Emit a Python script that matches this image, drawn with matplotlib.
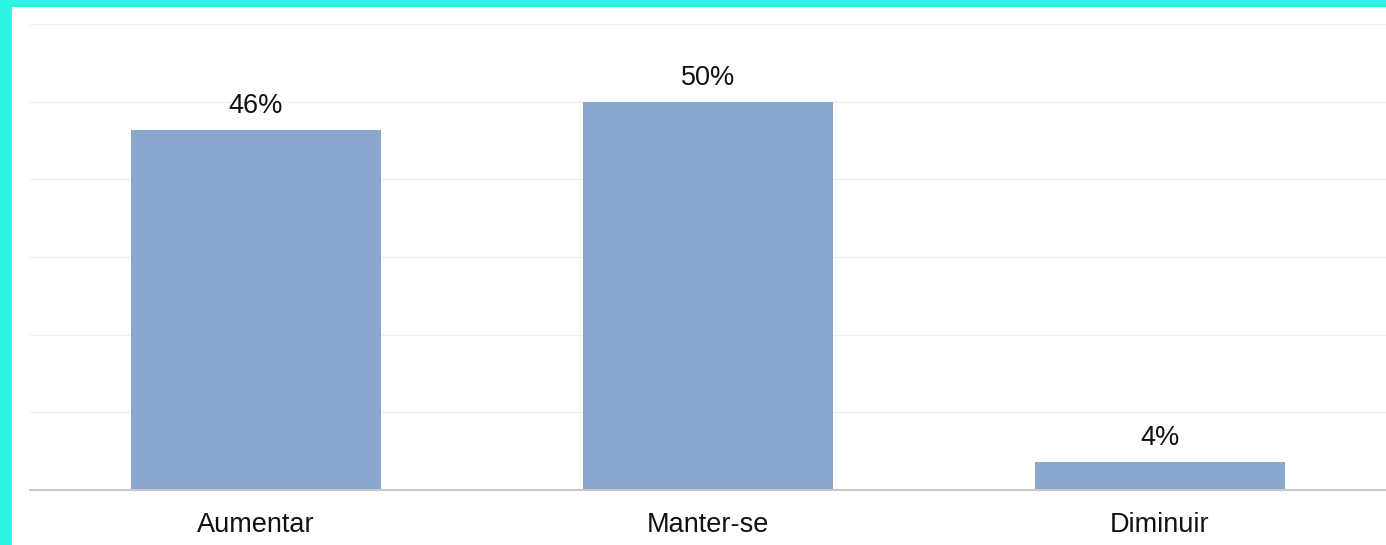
import matplotlib
matplotlib.use("Agg")
from matplotlib import pyplot as plt
from matplotlib.patches import Rectangle

categories = ["Aumentar", "Manter-se", "Diminuir"]
values = [46.4, 50.0, 3.6]
labels = ["46%", "50%", "4%"]


def main():
    plt.rcParams["font.family"] = ["Liberation Sans", "DejaVu Sans"]
    fig = plt.figure(figsize=(13.86, 5.45), dpi=100)
    fig.patch.set_facecolor("#2cf5e3")
    # white panel inside the cyan frame, kept behind the axes
    fig.patches.append(Rectangle((12 / 1386, 0), 1 - 12 / 1386, 1 - 7 / 545,
                                 transform=fig.transFigure, facecolor="white",
                                 edgecolor="none", zorder=-10))

    ax = fig.add_axes([30 / 1386, 55 / 545, 1 - 30 / 1386, 466 / 545])
    ax.set_facecolor("none")
    x = range(len(categories))
    bars = ax.bar(x, values, width=0.555, color="#8aa8ce", zorder=2)
    for b, lab in zip(bars, labels):
        ax.annotate(lab, (b.get_x() + b.get_width() / 2, b.get_height()),
                    xytext=(0, 8), textcoords="offset points",
                    ha="center", va="bottom", fontsize=19.5, color="#111111")

    ax.set_xlim(-0.5, 2.5)
    ax.set_ylim(0, 60)
    ax.set_yticks(range(0, 61, 10))
    ax.grid(axis="y", color="#f0f0f0", linewidth=1, zorder=0)
    ax.tick_params(axis="y", left=False, labelleft=False)
    ax.tick_params(axis="x", length=0, pad=16, labelsize=19.5, labelcolor="#111111")
    ax.set_xticks(list(x))
    ax.set_xticklabels(categories)
    for s in ["top", "right", "left"]:
        ax.spines[s].set_visible(False)
    ax.spines["bottom"].set_color("#c8c8c8")
    ax.spines["bottom"].set_linewidth(1.5)
    ax.spines["bottom"].set_zorder(3)

    fig.savefig("out.png", dpi=100, facecolor=fig.get_facecolor())


if __name__ == "__main__":
    main()
